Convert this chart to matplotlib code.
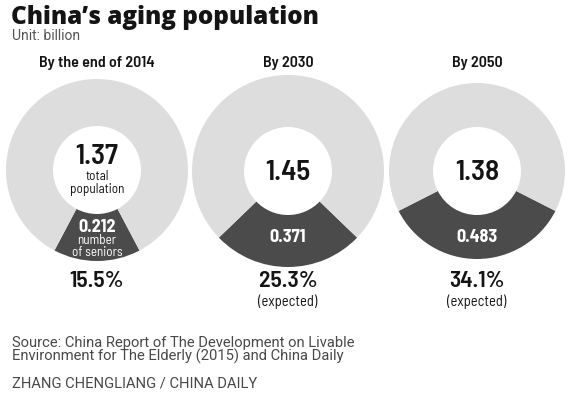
import matplotlib.pyplot as plt

# chart data
periods = ["By the end of 2014", "By 2030", "By 2050"]
totals = [1.37, 1.45, 1.38]
seniors = [0.212, 0.371, 0.483]
shares = ["15.5%", "25.3%", "34.1%"]
notes = ["", "(expected)", "(expected)"]

W, H = 574, 398
LIGHT = "#dddddd"
DARK = "#4b4b4b"
INK = "#141414"
NARROW = ["Barlow Semi Condensed", "DejaVu Sans"]
PLAIN = ["Roboto", "DejaVu Sans"]

fig = plt.figure(figsize=(W / 100, H / 100), dpi=100)
ax = fig.add_axes([0, 0, 1, 1])

# layout in pixels (top-down)
centers = [(97, 170), (288, 171), (477, 171)]
radii = [91, 96, 88]
hole = 44

for i in range(3):
    cx, cy = centers[i]
    angle = 360 * seniors[i] / totals[i]
    ax.pie([seniors[i], totals[i] - seniors[i]], colors=[DARK, LIGHT],
           center=(cx, cy), radius=radii[i], startangle=90 - angle / 2,
           wedgeprops=dict(width=radii[i] - hole, linewidth=0))

    ax.text(cx, 63, periods[i], ha="center", va="center", fontsize=11.5,
            fontweight="semibold", family=NARROW, color=INK)
    ax.text(cx, 281, shares[i], ha="center", va="center", fontsize=17,
            fontweight="semibold", family=NARROW, color=INK)
    if notes[i]:
        ax.text(cx, 302, notes[i], ha="center", va="center", fontsize=10.5,
                family=NARROW, color=INK)

# first donut carries the captions inside
cx, cy = centers[0]
ax.text(cx, 156, f"{totals[0]:.2f}", ha="center", va="center", fontsize=21,
        fontweight="semibold", family=NARROW, color=INK)
ax.text(cx, 177, "total", ha="center", va="center", fontsize=9.5, family=NARROW, color=INK)
ax.text(cx, 189, "population", ha="center", va="center", fontsize=9.5, family=NARROW, color=INK)
ax.text(cx, 227, f"{seniors[0]:.3f}", ha="center", va="center", fontsize=13,
        fontweight="bold", family=NARROW, color="white")
ax.text(cx, 241, "number", ha="center", va="center", fontsize=9.5, family=NARROW, color="white")
ax.text(cx, 253, "of seniors", ha="center", va="center", fontsize=9.5, family=NARROW, color="white")

for i in (1, 2):
    cx, cy = centers[i]
    ax.text(cx, 172, f"{totals[i]:.2f}", ha="center", va="center", fontsize=21,
            fontweight="semibold", family=NARROW, color=INK)
    ax.text(cx, 238, f"{seniors[i]:.3f}", ha="center", va="center", fontsize=13,
            fontweight="bold", family=NARROW, color="white")

# header and footer
ax.text(11, 17, "China\u2019s aging population", ha="left", va="center",
        fontsize=17.5, fontweight="heavy", family=["Open Sans", "DejaVu Sans"], color=INK)
ax.text(12, 36, "Unit: billion", ha="left", va="center", fontsize=10,
        family=PLAIN, color="#555555")
ax.text(12, 350, "Source: China Report of The Development on Livable\n"
        "Environment for The Elderly (2015) and China Daily",
        ha="left", va="center", fontsize=10.6, family=PLAIN,
        color="#484848", linespacing=0.88)
ax.text(12, 384, "ZHANG CHENGLIANG / CHINA DAILY", ha="left", va="center",
        fontsize=10.6, family=PLAIN, color="#484848")

ax.set_xlim(0, W)
ax.set_ylim(H, 0)
ax.set_aspect("equal")
ax.axis("off")

fig.savefig("out.png", dpi=100)
